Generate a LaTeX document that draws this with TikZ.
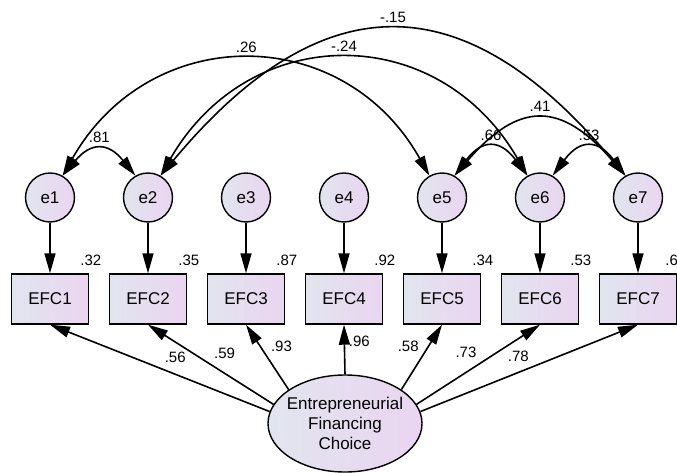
\documentclass[tikz,border=0pt]{standalone}
\usepackage{fontspec}
\setmainfont{Liberation Sans}
\usetikzlibrary{arrows.meta,shapes.geometric}
\definecolor{fillL}{RGB}{225,229,238}
\definecolor{fillR}{RGB}{234,213,241}

\begin{document}
\begin{tikzpicture}[x=1pt,y=-1pt,
    err/.style={circle,draw,line width=1.4pt,minimum size=49pt,inner sep=0pt,
      left color=fillL,right color=fillR,font=\fontsize{17}{20}\selectfont},
    obs/.style={rectangle,draw,line width=1.4pt,minimum width=77pt,minimum height=50pt,
      inner sep=0pt,left color=fillL,right color=fillR,font=\fontsize{17}{20}\selectfont},
    lat/.style={ellipse,draw,line width=1.4pt,minimum width=154pt,minimum height=97pt,
      inner sep=0pt,left color=fillL,right color=fillR},
    arr/.style={line width=1.6pt,-{Triangle[length=20pt,width=11pt]}},
    covar/.style={line width=1.6pt,{Triangle[length=20pt,width=11pt]}-{Triangle[length=20pt,width=11pt]}},
    num/.style={inner sep=1pt,font=\fontsize{15}{17}\selectfont}]
      % errors and indicators
      \foreach \i in {1,...,7} {
        \node[err] (e\i) at (98*\i-48,197.5) {e\i};
        \node[obs] (v\i) at (98*\i-48,299) {EFC\i};
        \draw[arr] (e\i) -- (v\i);
      }
      \foreach \i/\r/\dx in {1/.32/-10,2/.35/-10,3/.87/-10,4/.92/-10,5/.34/-10,6/.53/-10,7/.6/-13}
        \node[num,anchor=south west] (r\i) at ([xshift=\dx pt,yshift=6pt]v\i.north east) {\r};
      % factor
      \node[lat,label={[align=center,font=\fontsize{17}{20}\selectfont]center:Entrepreneurial\\Financing\\Choice}] (fac) at (345,423.5) {};
      \draw[arr] (fac.171) -- node[num,pos=.43,yshift=17pt] {.56} (v1.south);
      \draw[arr] (fac.165) -- node[num,pos=.39,yshift=20pt] {.59} (v2.south);
      \draw[arr] (fac.149) -- node[num,pos=.66,xshift=21pt] {.93} (v3.south);
      \draw[arr] (fac.90) -- node[num,pos=.66,xshift=15pt] {.96} (v4.south);
      \draw[arr] (fac.31) -- node[num,pos=.66,xshift=-20pt] {.58} (v5.south);
      \draw[arr] (fac.15) -- node[num,pos=.4,yshift=20pt] {.73} (v6.south);
      \draw[arr] (fac.9) -- node[num,pos=.45,yshift=16pt] {.78} (v7.south);
      % covariances
      \draw[covar] (e1.60) .. controls (91,142) and (108,142) .. node[num,above=6pt] {.81} (e2.120);
      \draw[covar] (e1.60) .. controls (150,22) and (343,22) .. node[num,above=6pt] {.26} (e5.120);
      \draw[covar] (e2.60) .. controls (250,21) and (438,21) .. node[num,above=6pt] {-.24} (e6.120);
      \draw[covar] (e2.60) .. controls (322,-18) and (464,-18) .. node[num,above=6pt] {-.15} (e7.120);
      \draw[covar] (e5.60) .. controls (519,101) and (561,101) .. node[num,above=6pt] {.41} (e7.120);
      \draw[covar] (e5.60) .. controls (482,139) and (500,139) .. node[num,above=6pt] {.66} (e6.120);
      \draw[covar] (e6.60) .. controls (580,139) and (598,139) .. node[num,above=6pt] {.53} (e7.120);
      \pgfresetboundingbox
      \useasboundingbox (0,0) rectangle (677,473);
    \end{tikzpicture}
\end{document}
